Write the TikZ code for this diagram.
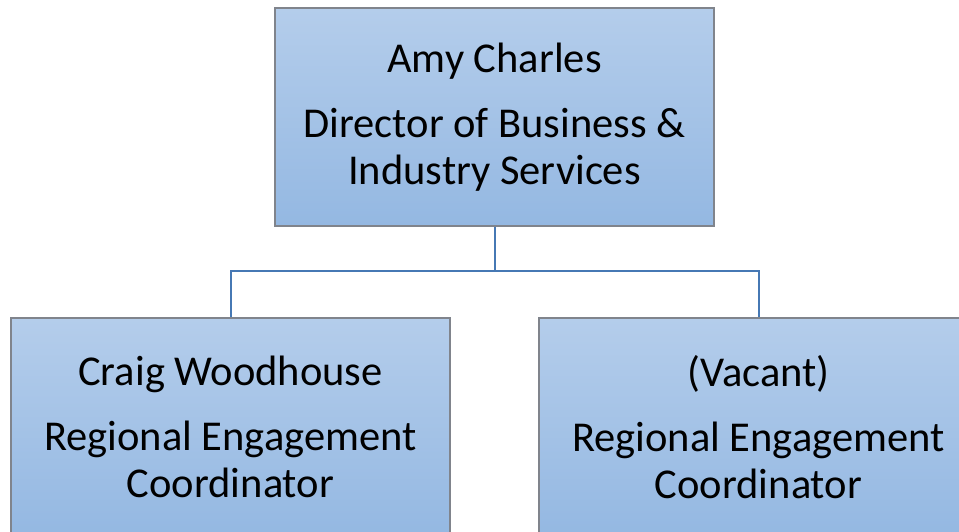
\documentclass[tikz,border=0pt]{standalone}
\usepackage{fontspec}
\setmainfont{Carlito}
\begin{document}
\begin{tikzpicture}[x=1pt,y=-1pt,
  orgbox/.style={draw={rgb,255:red,128;green,132;blue,140}, line width=1.2pt,
    top color={rgb,255:red,180;green,205;blue,235},
    bottom color={rgb,255:red,148;green,184;blue,226},
    minimum width=439pt, minimum height=218pt, inner sep=0pt,
    align=center, font=\fontsize{42.5}{47}\selectfont},
  link/.style={draw={rgb,255:red,70;green,120;blue,180}, line width=2pt}]
\clip (0,0) rectangle (959,531);
\fill[white] (0,0) rectangle (959,531);
\node[orgbox] (top) at (494.5,117) {Amy Charles\\[18pt]Director of Business \&\\Industry Services};
\node[orgbox] (left) at (230.5,427) {Craig Woodhouse\\[18pt]Regional Engagement\\Coordinator};
\node[orgbox] (right) at (758.5,427) {(Vacant)\\[18pt]Regional Engagement\\Coordinator};
\coordinate (mid) at (494.5,271);
\draw[link] (top.south) -- (mid) -| (left.north);
\draw[link] (mid) -| (right.north);
\end{tikzpicture}
\end{document}
